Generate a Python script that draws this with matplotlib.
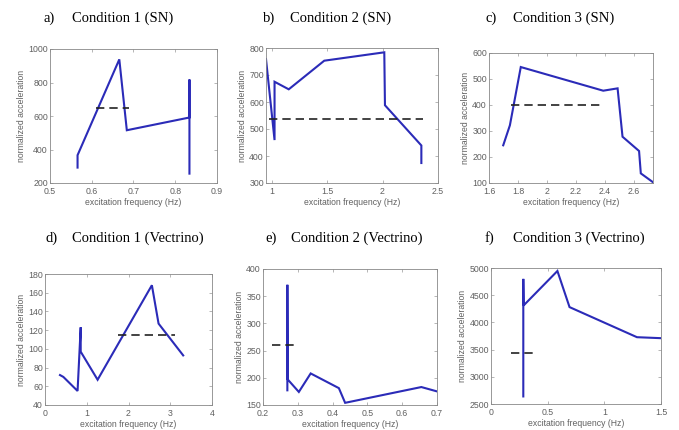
import numpy as np
import matplotlib
matplotlib.use("Agg")
import matplotlib.pyplot as plt
from matplotlib.ticker import FuncFormatter

plt.rcParams["font.family"] = ["Liberation Sans", "DejaVu Sans"]

# a) Condition 1 (SN)
a_f = [0.566, 0.566, 0.666, 0.684, 0.834, 0.834, 0.834]
a_v = [292, 366, 938, 515, 591, 818, 256]
a_ref = [0.61, 0.69, 650]

# b) Condition 2 (SN)
b_f = [0.95, 1.027, 1.027, 1.155, 1.475, 2.016, 2.022, 2.35, 2.35]
b_v = [759, 459, 675, 647, 753, 784, 588, 439, 374]
b_ref = [0.98, 2.365, 538]

# c) Condition 3 (SN)
c_f = [1.698, 1.744, 1.819, 2.387, 2.486, 2.52, 2.634, 2.646, 2.73]
c_v = [245, 322, 546, 455, 464, 278, 223, 137, 103]
c_ref = [1.755, 2.368, 401]

# d) Condition 1 (Vectrino)
d_f = [0.359, 0.44, 0.78, 0.855, 0.855, 1.26, 2.56, 2.72, 3.31]
d_v = [72, 70, 55, 123, 97, 67, 168, 127, 93]
d_ref = [1.75, 3.12, 115]

# e) Condition 2 (Vectrino)
e_f = [0.27, 0.27, 0.271, 0.303, 0.337, 0.418, 0.436, 0.655, 0.7]
e_v = [177, 371, 197, 174, 208, 181, 154, 183, 175]
e_ref = [0.225, 0.297, 260]

# f) Condition 3 (Vectrino)
f_f = [0.285, 0.285, 0.288, 0.586, 0.693, 1.288, 1.5]
f_v = [2639, 4800, 4312, 4945, 4281, 3728, 3710]
f_ref = [0.177, 0.38, 3442]

panels = [
    ("a)", "Condition 1 (SN)", a_f, a_v, a_ref, (0.5, 0.9), np.arange(0.5, 0.91, 0.1), (200, 1000), np.arange(200, 1001, 200)),
    ("b)", "Condition 2 (SN)", b_f, b_v, b_ref, (0.95, 2.5), [1, 1.5, 2, 2.5], (300, 800), np.arange(300, 801, 100)),
    ("c)", "Condition 3 (SN)", c_f, c_v, c_ref, (1.6, 2.73), np.arange(1.6, 2.61, 0.2), (100, 600), np.arange(100, 601, 100)),
    ("d)", "Condition 1 (Vectrino)", d_f, d_v, d_ref, (0, 4), [0, 1, 2, 3, 4], (40, 180), np.arange(40, 181, 20)),
    ("e)", "Condition 2 (Vectrino)", e_f, e_v, e_ref, (0.2, 0.7), np.arange(0.2, 0.71, 0.1), (150, 400), np.arange(150, 401, 50)),
    ("f)", "Condition 3 (Vectrino)", f_f, f_v, f_ref, (0, 1.5), [0, 0.5, 1, 1.5], (2500, 5000), np.arange(2500, 5001, 500)),
]

# axes boxes in pixels: left, right, top, bottom
W, H = 679, 430
boxes = [
    (50, 217, 49, 183), (266, 438, 48, 183), (489, 653, 53, 183),
    (45, 212, 274, 405), (263, 437, 269, 405), (491, 661, 268, 404),
]
title_pos = [(43, 72, 18), (263, 290, 18), (485, 513, 18),
             (45, 72, 238), (265, 291, 238), (485, 513, 238)]

fig = plt.figure(figsize=(W / 100, H / 100), dpi=100)
fmt = FuncFormatter(lambda v, p: "{:g}".format(round(v, 6)))
grey = "#606060"

for (lab, title, x, y, ref, xl, xt, yl, yt), (l, r, t, b), (lx, cx, ty) in zip(panels, boxes, title_pos):
    ax = fig.add_axes([l / W, 1 - b / H, (r - l) / W, (b - t) / H])
    ax.plot(x, y, color="#2b2bb8", lw=1.5, solid_joinstyle="miter")
    ax.plot(ref[:2], [ref[2], ref[2]], color="#222222", lw=1.2, ls=(0, (5, 3)))
    ax.set_xlim(xl)
    ax.set_ylim(yl)
    ax.set_xticks(xt)
    ax.set_yticks(yt)
    ax.xaxis.set_major_formatter(fmt)
    ax.yaxis.set_major_formatter(fmt)
    ax.tick_params(direction="in", length=2, width=0.5, colors="#999999",
                   labelcolor=grey, labelsize=6.3, top=True, right=True)
    ax.tick_params(axis="x", pad=3)
    ax.tick_params(axis="y", pad=1.5)
    for s in ax.spines.values():
        s.set_color("#888888")
        s.set_linewidth(0.6)
    ax.set_xlabel("excitation frequency (Hz)", fontsize=6.2, color=grey, labelpad=1.5)
    ax.set_ylabel("normalized acceleration", fontsize=6.2, color=grey, labelpad=1.5)
    fig.text(lx / W, 1 - ty / H, lab, family="Liberation Serif", fontsize=10.5, va="center")
    fig.text(cx / W, 1 - ty / H, title, family="Liberation Serif", fontsize=10.5, va="center")

fig.savefig("out.png", dpi=100)
